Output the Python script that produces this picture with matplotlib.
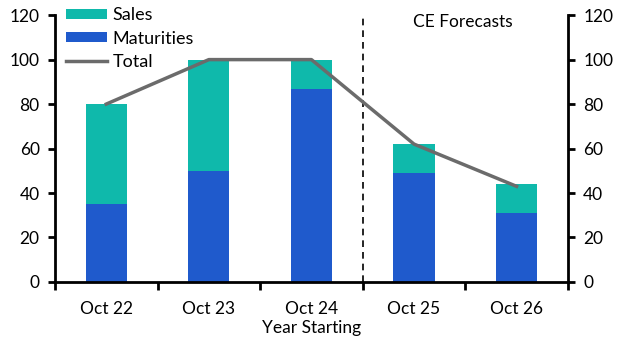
import numpy as np
import matplotlib.pyplot as plt

plt.rcParams['font.family'] = ['Lato', 'DejaVu Sans']

years = ['Oct 22', 'Oct 23', 'Oct 24', 'Oct 25', 'Oct 26']
maturities = [35, 50, 87, 49, 31]
sales = [45, 50, 13, 13, 13]
total = [80, 100, 100, 62, 43]

c_sales = '#0fb9ab'
c_mat = '#1f5acc'
c_tot = '#6b6b6b'

fig = plt.figure(figsize=(6.27, 3.52), dpi=100)
ax = fig.add_axes([0.0877, 0.199, 0.818, 0.758])
x = np.arange(len(years))

b1 = ax.bar(x, sales, 0.4, bottom=maturities, color=c_sales, label='Sales', zorder=2)
b2 = ax.bar(x, maturities, 0.4, color=c_mat, label='Maturities', zorder=2)
l1, = ax.plot(x, total, color=c_tot, lw=2.5, label='Total', zorder=3)
ax.axvline(2.5, color='black', lw=1.2, ls=(0, (4, 3)), zorder=1)

ax.set_xlim(-0.5, 4.5)
ax.set_ylim(0, 120)
ax.set_yticks(range(0, 121, 20))
ax.set_xticks(np.arange(-0.5, 4.6, 1))
ax.set_xticklabels([])
ax.set_xticks(x, minor=True)
ax.set_xticklabels(years, minor=True, fontsize=12.5)
ax.tick_params(axis='x', which='minor', length=0, pad=14)
ax.tick_params(axis='x', which='major', length=6, width=2, direction='out')
ax.tick_params(axis='y', length=5, width=2, direction='out', labelsize=12.5,
               right=True, labelright=True, pad=6)
for s in ['left', 'right', 'bottom']:
    ax.spines[s].set_linewidth(2)
ax.spines['top'].set_visible(False)

ax.set_xlabel('Year Starting', fontsize=12.5, labelpad=2)
ax.text(3.48, 117, 'CE Forecasts', fontsize=12.5, ha='center', va='center')

ax.legend([b1, b2, l1], ['Sales', 'Maturities', 'Total'],
          loc='upper left', bbox_to_anchor=(0.0, 1.07), frameon=False,
          fontsize=13, handlelength=2.3, handleheight=0.5, labelspacing=0.4,
          handletextpad=0.3, borderaxespad=0.2)

fig.savefig('out.png')
